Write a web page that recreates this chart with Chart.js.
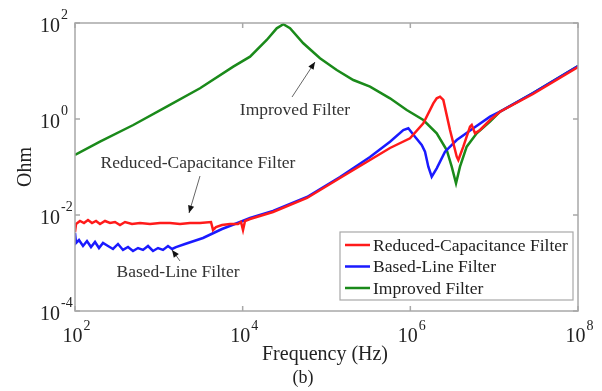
<!DOCTYPE html>
<html>
<head>
<meta charset="utf-8">
<script src="https://cdn.jsdelivr.net/npm/chart.js@4"></script>
<style>
  html, body { margin: 0; padding: 0; background: #fff; }
  #wrap { width: 602px; height: 391px; }
</style>
</head>
<body>
<div id="wrap"><canvas id="mainChart" width="602" height="391"></canvas></div>
<script>
// Impedance curves (Hz, Ohm)
const redFreq = [100, 102.8, 114.7, 128.0, 142.9, 159.6, 178.1, 198.7, 228.0, 261.6, 300.1, 344.2, 394.9, 478.6, 596.4, 784.9, 1033, 1359, 1789, 2354, 3098, 4192, 4430, 4808, 5671, 7063, 8800, 9555, 10095, 10664, 12240, 23010, 58550, 144900, 330400, 572300, 991300, 1.429e6, 1.880e6, 2.064e6, 2.259e6, 2.474e6, 2.973e6, 3.576e6, 3.737e6, 4.285e6, 5.152e6, 5.398e6, 5.911e6, 6.781e6, 8.925e6, 1.174e7, 2.907e7, 1e8];
const redOhm = [0.00443, 0.00649, 0.0075, 0.00681, 0.00787, 0.00681, 0.0075, 0.00649, 0.0075, 0.00681, 0.00715, 0.00619, 0.00715, 0.00649, 0.00681, 0.00649, 0.00681, 0.00681, 0.00649, 0.00681, 0.00681, 0.00715, 0.00487, 0.00562, 0.00619, 0.00649, 0.00649, 0.00715, 0.00487, 0.0075, 0.00825, 0.01155, 0.0226, 0.059, 0.14, 0.249, 0.396, 0.814, 2.12, 2.70, 2.92, 2.49, 0.59, 0.164, 0.14, 0.265, 0.692, 0.75, 0.504, 0.59, 0.953, 1.42, 3.32, 12.1];

const blueFreq = [100, 102.8, 111.6, 124.6, 139.0, 155.2, 173.3, 193.3, 215.8, 247.6, 284.0, 325.8, 373.8, 428.8, 491.9, 564.2, 647.5, 742.9, 852.1, 977.7, 1121, 1286, 1436, 1603, 2052, 3365, 5671, 9297, 12240, 23010, 58550, 144900, 330400, 572300, 824500, 946000, 1.137e6, 1.367e6, 1.497e6, 1.639e6, 1.799e6, 2.064e6, 2.593e6, 3.576e6, 5.641e6, 8.925e6, 1.174e7, 2.907e7, 1e8];
const blueOhm = [0.00422, 0.00261, 0.00301, 0.00226, 0.00287, 0.00215, 0.00274, 0.00205, 0.00261, 0.00226, 0.00196, 0.00249, 0.00187, 0.00215, 0.00178, 0.00205, 0.00187, 0.00226, 0.00178, 0.00205, 0.00187, 0.00226, 0.00196, 0.00215, 0.00249, 0.00332, 0.00511, 0.00715, 0.00866, 0.01212, 0.0237, 0.0619, 0.1616, 0.337, 0.59, 0.64, 0.428, 0.287, 0.2085, 0.1014, 0.0628, 0.094, 0.2085, 0.365, 0.64, 1.117, 1.42, 3.48, 12.7];

const greenFreq = [100, 198.6, 495.5, 1242, 3097, 7727, 12246, 19364, 25470, 30549, 36710, 52890, 83670, 132400, 208900, 330400, 572300, 905300, 1.429e6, 2.064e6, 2.716e6, 3.116e6, 3.507e6, 3.913e6, 4.704e6, 6.192e6, 8.925e6, 1.174e7, 2.907e7, 1e8];
const greenOhm = [0.178, 0.3365, 0.75, 1.803, 4.365, 12.3, 19.86, 44.26, 77.45, 94.0, 77.6, 37.8, 18.4, 10.5, 6.49, 4.71, 2.70, 1.54, 0.953, 0.504, 0.226, 0.1014, 0.0457, 0.1014, 0.265, 0.504, 0.879, 1.42, 3.48, 12.7];

const xTicks = [1e2, 1e4, 1e6, 1e8];
const xTickExp = ['2', '4', '6', '8'];
const yTicks = [1e-4, 1e-2, 1e0, 1e2];
const yTickExp = ['-4', '-2', '0', '2'];

// text callouts, anchored in data units
const notes = [
    { text: 'Improved Filter', at: [42100, 1.54], from: [38800, 2.87], to: [72900, 15.4] },
    { text: 'Reduced-Capacitance Filter', at: [2931, 0.121], from: [3098, 0.0649], to: [2291, 0.011] },
    { text: 'Based-Line Filter', at: [1694, 0.000649], from: [1789, 0.0011], to: [1436, 0.00187] }
];

const SERIF = '"Liberation Serif", "Times New Roman", serif';
const FRAME = '#a8a8a8';
const INK = '#222';

function pts(fs, zs) {
    return fs.map((f, i) => ({ x: f, y: zs[i] }));
}

const decor = {
    id: 'decor',
    afterDraw(chart) {
        const ctx = chart.ctx;
        const a = chart.chartArea;
        const sx = chart.scales.x, sy = chart.scales.y;
        ctx.save();

        // frame + inward ticks on all sides
        ctx.strokeStyle = FRAME;
        ctx.lineWidth = 1.5;
        ctx.strokeRect(a.left, a.top, a.right - a.left, a.bottom - a.top);
        ctx.beginPath();
        xTicks.forEach(v => {
            const px = sx.getPixelForValue(v);
            ctx.moveTo(px, a.bottom); ctx.lineTo(px, a.bottom - 5);
            ctx.moveTo(px, a.top); ctx.lineTo(px, a.top + 5);
        });
        yTicks.forEach(v => {
            const py = sy.getPixelForValue(v);
            ctx.moveTo(a.left, py); ctx.lineTo(a.left + 5, py);
            ctx.moveTo(a.right, py); ctx.lineTo(a.right - 5, py);
        });
        ctx.stroke();

        // tick labels: 10 with raised exponent
        ctx.fillStyle = INK;
        ctx.textBaseline = 'alphabetic';
        const big = '20px ' + SERIF, small = '14px ' + SERIF;
        xTicks.forEach((v, i) => {
            const px = sx.getPixelForValue(v);
            ctx.font = big; const w1 = ctx.measureText('10').width;
            ctx.font = small; const w2 = ctx.measureText(xTickExp[i]).width;
            const x0 = px - (w1 + w2) / 2 + 1;
            ctx.font = big; ctx.textAlign = 'left';
            ctx.fillText('10', x0, a.bottom + 31);
            ctx.font = small;
            ctx.fillText(xTickExp[i], x0 + w1 + 1, a.bottom + 19);
        });
        yTicks.forEach((v, i) => {
            const py = sy.getPixelForValue(v);
            ctx.font = big; ctx.textAlign = 'right';
            ctx.fillText('10', a.left - 15, py + 8.5);
            ctx.font = small; ctx.textAlign = 'left';
            ctx.fillText(yTickExp[i], a.left - 14, py - 4);
        });

        // axis titles
        ctx.font = '20px ' + SERIF;
        ctx.textAlign = 'center';
        ctx.fillText('Frequency (Hz)', 325, a.bottom + 49);
        ctx.font = '18px ' + SERIF;
        ctx.fillText('(b)', 303, a.bottom + 72);
        ctx.save();
        ctx.translate(31, (a.top + a.bottom) / 2);
        ctx.rotate(-Math.PI / 2);
        ctx.font = '20px ' + SERIF;
        ctx.fillText('Ohm', 0, 0);
        ctx.restore();

        // callouts with arrows
        notes.forEach(n => {
            const tx = sx.getPixelForValue(n.at[0]), ty = sy.getPixelForValue(n.at[1]);
            const fx = sx.getPixelForValue(n.from[0]), fy = sy.getPixelForValue(n.from[1]);
            const hx = sx.getPixelForValue(n.to[0]), hy = sy.getPixelForValue(n.to[1]);
            ctx.font = '17.5px ' + SERIF;
            ctx.textAlign = 'center';
            ctx.textBaseline = 'middle';
            ctx.fillStyle = '#333';
            ctx.fillText(n.text, tx, ty);
            ctx.strokeStyle = '#666';
            ctx.lineWidth = 1;
            ctx.beginPath(); ctx.moveTo(fx, fy); ctx.lineTo(hx, hy); ctx.stroke();
            const ang = Math.atan2(hy - fy, hx - fx);
            ctx.fillStyle = '#111';
            ctx.beginPath();
            ctx.moveTo(hx, hy);
            ctx.lineTo(hx - 8 * Math.cos(ang - 0.4), hy - 8 * Math.sin(ang - 0.4));
            ctx.lineTo(hx - 8 * Math.cos(ang + 0.4), hy - 8 * Math.sin(ang + 0.4));
            ctx.closePath(); ctx.fill();
        });

        // legend box
        const lx = 340, ly = 232, lw = 233, lh = 68;
        ctx.fillStyle = '#fff';
        ctx.fillRect(lx, ly, lw, lh);
        ctx.strokeStyle = FRAME;
        ctx.lineWidth = 1.2;
        ctx.strokeRect(lx, ly, lw, lh);
        ctx.font = '17.5px ' + SERIF;
        ctx.textAlign = 'left';
        ctx.textBaseline = 'middle';
        chart.data.datasets.forEach((ds, i) => {
            const ry = ly + 13 + i * 21.5;
            ctx.strokeStyle = ds.borderColor;
            ctx.lineWidth = 2.5;
            ctx.beginPath(); ctx.moveTo(lx + 5, ry); ctx.lineTo(lx + 30, ry); ctx.stroke();
            ctx.fillStyle = INK;
            ctx.fillText(ds.label, lx + 33, ry + 1);
        });
        ctx.restore();
    }
};

const ctx = document.getElementById('mainChart').getContext('2d');
new Chart(ctx, {
    type: 'line',
    data: {
        datasets: [
            { label: 'Reduced-Capacitance Filter', data: pts(redFreq, redOhm), borderColor: '#ff1a1a', borderWidth: 2.5, pointRadius: 0, tension: 0 },
            { label: 'Based-Line Filter', data: pts(blueFreq, blueOhm), borderColor: '#1a1aff', borderWidth: 2.5, pointRadius: 0, tension: 0 },
            { label: 'Improved Filter', data: pts(greenFreq, greenOhm), borderColor: '#1a8a1a', borderWidth: 2.5, pointRadius: 0, tension: 0 }
        ]
    },
    options: {
        responsive: false,
        animation: false,
        devicePixelRatio: 1,
        layout: { padding: { left: 75, right: 24, top: 23, bottom: 80 } },
        plugins: { legend: { display: false }, tooltip: { enabled: false } },
        scales: {
            x: { type: 'logarithmic', min: 1e2, max: 1e8, display: false },
            y: { type: 'logarithmic', min: 1e-4, max: 1e2, display: false }
        }
    },
    plugins: [decor]
});
</script>
</body>
</html>
